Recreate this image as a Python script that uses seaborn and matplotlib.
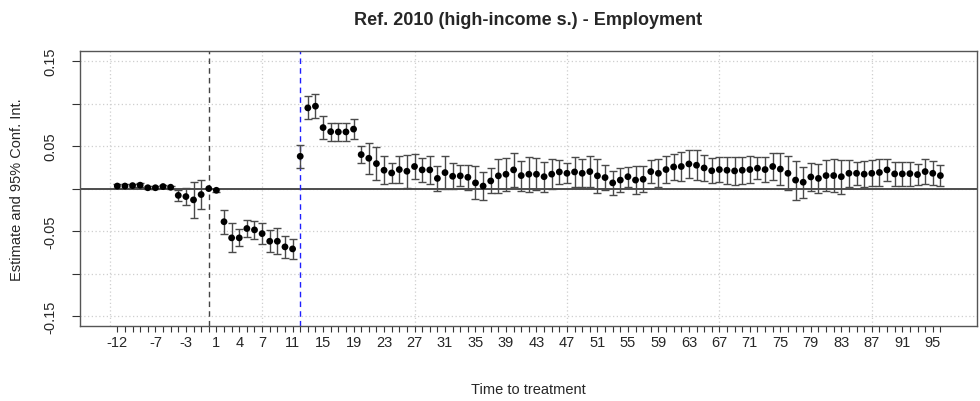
import matplotlib
matplotlib.use("Agg")
import matplotlib.pyplot as plt
import numpy as np
import pandas as pd
import seaborn as sns

# Event-study coefficients by time to treatment (reference period 0 fixed at zero)
periods = list(range(-12, 97))
estimate = [
    0.0030, 0.0030, 0.0035, 0.0040, 0.0010, 0.0010, 0.0024, 0.0016,
    -0.0080, -0.0094, -0.0133, -0.0070, 0.0000, -0.0020,
    -0.0390, -0.0580, -0.0580, -0.0470, -0.0486, -0.0530, -0.0620, -0.0620,
    -0.0686, -0.0710,
    0.0380, 0.0950, 0.0970, 0.0718, 0.0670, 0.0667, 0.0667, 0.0700,
    0.0400, 0.0357, 0.0294, 0.0216, 0.0184, 0.0224, 0.0204, 0.0260,
    0.0220, 0.0220, 0.0120, 0.0188, 0.0145, 0.0150, 0.0133, 0.0067,
    0.0030, 0.0090, 0.0150, 0.0169, 0.0220, 0.0153, 0.0169, 0.0169,
    0.0140, 0.0170, 0.0196, 0.0180, 0.0196, 0.0180, 0.0200, 0.0150,
    0.0130, 0.0067, 0.0100, 0.0140, 0.0100, 0.0110, 0.0200, 0.0180,
    0.0224, 0.0255, 0.0260, 0.0290, 0.0275, 0.0243, 0.0210, 0.0224,
    0.0216, 0.0208, 0.0216, 0.0224, 0.0240, 0.0224, 0.0260, 0.0230,
    0.0180, 0.0100, 0.0075, 0.0137, 0.0120, 0.0153, 0.0153, 0.0140,
    0.0180, 0.0180, 0.0170, 0.0180, 0.0190, 0.0220, 0.0173, 0.0173,
    0.0176, 0.0165, 0.0200, 0.0180, 0.0153,
]
# Half-width of the 95% confidence interval
half_width = [
    0.0020, 0.0020, 0.0020, 0.0020, 0.0020, 0.0015, 0.0015, 0.0015,
    0.0065, 0.0104, 0.0210, 0.0170, 0.0000, 0.0020,
    0.0140, 0.0170, 0.0100, 0.0098, 0.0102, 0.0125, 0.0130, 0.0153,
    0.0133, 0.0122,
    0.0135, 0.0135, 0.0143, 0.0133, 0.0104, 0.0110, 0.0110, 0.0122,
    0.0098, 0.0180, 0.0196, 0.0167, 0.0118, 0.0157, 0.0196, 0.0143,
    0.0143, 0.0167, 0.0143, 0.0196, 0.0155, 0.0123, 0.0145, 0.0194,
    0.0170, 0.0147, 0.0202, 0.0192, 0.0202, 0.0176, 0.0206, 0.0190,
    0.0178, 0.0180, 0.0137, 0.0118, 0.0180, 0.0167, 0.0180, 0.0200,
    0.0147, 0.0143, 0.0143, 0.0118, 0.0160, 0.0155, 0.0135, 0.0167,
    0.0157, 0.0153, 0.0167, 0.0160, 0.0176, 0.0155, 0.0149, 0.0147,
    0.0157, 0.0160, 0.0160, 0.0163, 0.0131, 0.0147, 0.0160, 0.0184,
    0.0198, 0.0229, 0.0184, 0.0167, 0.0167, 0.0178, 0.0192, 0.0198,
    0.0160, 0.0137, 0.0153, 0.0153, 0.0162, 0.0127, 0.0137, 0.0145,
    0.0141, 0.0127, 0.0147, 0.0143, 0.0127,
]

x_tick_labels = [-12, -7, -3, 1, 4, 7, 11] + list(range(15, 96, 4))
y_ticks = [-0.15, -0.10, -0.05, 0.0, 0.05, 0.10, 0.15]
y_tick_labels = ["-0.15", "", "-0.05", "", "0.05", "", "0.15"]
x_grid = [-13, 7, 27, 47, 67, 87]
reference_period = 0
treatment_period = 12

title = "Ref. 2010 (high-income s.) - Employment"
x_title = "Time to treatment"
y_title = "Estimate and 95% Conf. Int."

df = pd.DataFrame({"period": periods, "estimate": estimate, "half_width": half_width})

sns.set_style("white")
plt.rcParams["font.family"] = ["Liberation Sans", "DejaVu Sans"]

fig = plt.figure(figsize=(9.8, 4.02), dpi=100)
ax = fig.add_axes([0.0816, 0.1873, 0.9153, 0.6826])

# dotted grid
for yv in y_ticks:
    ax.axhline(yv, color="#cfcfcf", lw=0.9, ls=(0, (1, 2)), zorder=0)
for xv in x_grid:
    ax.axvline(xv, color="#cfcfcf", lw=0.9, ls=(0, (1, 2)), zorder=0)

# zero line and event markers
ax.axhline(0, color="#4d4d4d", lw=1.4, zorder=1)
ax.axvline(reference_period, color="#444444", lw=1.0, ls=(0, (4, 3)), zorder=1)
ax.axvline(treatment_period, color="#1f1fff", lw=1.0, ls=(0, (4, 3)), zorder=1)

# confidence intervals
ci = df[df["half_width"] > 0]
ax.errorbar(ci["period"], ci["estimate"], yerr=ci["half_width"], fmt="none",
            ecolor="#4a4a4a", elinewidth=1.0, capsize=2.6, capthick=1.0, zorder=2)

# point estimates
sns.scatterplot(data=df, x="period", y="estimate", color="black", s=24,
                edgecolor="none", linewidth=0, ax=ax, zorder=3, legend=False)

ax.set_xlim(-16.9, 100.8)
ax.set_ylim(-0.1614, 0.1616)

all_ticks = np.arange(-12, 97)
ax.set_xticks(all_ticks)
ax.set_xticklabels([str(t) if t in x_tick_labels else "" for t in all_ticks])
ax.set_yticks(y_ticks)
ax.set_yticklabels(y_tick_labels, rotation=90, va="center")

ax.tick_params(axis="x", which="both", direction="out", length=4.5, width=0.8,
               color="#333333", labelsize=10.5, pad=2.5, bottom=True)
ax.tick_params(axis="y", which="both", direction="out", length=5.5, width=0.8,
               color="#333333", labelsize=10.5, pad=11, left=True)

for sp in ax.spines.values():
    sp.set_color("#555555")
    sp.set_linewidth(1.0)

ax.set_xlabel(x_title, fontsize=10.5)
ax.xaxis.set_label_coords(0.5, -0.205)
ax.set_ylabel(y_title, fontsize=10.5)
ax.yaxis.set_label_coords(-0.0702, 0.5)
ax.yaxis.label.set_va("center")
ax.set_title(title, fontsize=13, fontweight="bold", pad=20)

fig.savefig("out.png", dpi=100)
